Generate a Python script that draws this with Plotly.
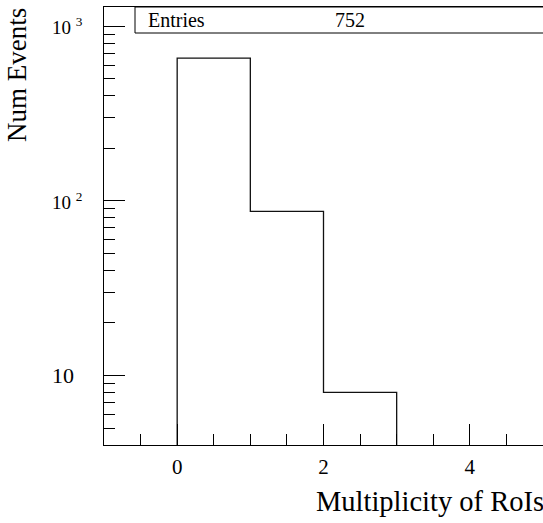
import math
import plotly.graph_objects as go

# Histogram content: bin edges and counts per bin
bin_edges = [0, 1, 2, 3]
counts = [657, 87, 8]

# Axis setup
x_range = [-1, 5]
y_range = [4.0, 1290]
x_tick_vals = [0, 2, 4]
x_tick_text = ["0", "2", "4"]
x_minor_step = 0.5
y_major = [10, 100, 1000]
y_labels = ["10", "10&nbsp;<sup>2</sup>", "10&nbsp;<sup>3</sup>"]
x_title = "Multiplicity of RoIs"
y_title = "Num Events"
stats_label = "Entries"

FONT = "Liberation Serif, Times New Roman, Times, serif"
W, H = 543, 523
ML, MR, MT, MB = 104, 0, 7, 78
PW, PH = W - ML - MR, H - MT - MB


def px_x(px):
    """Horizontal pixel position -> paper coordinate."""
    return (px - ML) / PW


def px_y(py):
    """Vertical pixel position (from top) -> paper coordinate."""
    return (H - MB - py) / PH


# Step outline of the histogram, dropping to below the axis floor at both ends
floor = y_range[0] / 10
xs, ys = [bin_edges[0]], [floor]
for i, c in enumerate(counts):
    xs += [bin_edges[i], bin_edges[i + 1]]
    ys += [c, c]
xs.append(bin_edges[-1])
ys.append(floor)

y_minor = [m * 10 ** e for e in range(0, 4) for m in range(2, 10)
           if y_range[0] <= m * 10 ** e <= y_range[1]]

fig = go.Figure()
fig.add_trace(go.Scatter(x=xs, y=ys, mode="lines",
                         line=dict(color="#111111", width=1.3),
                         hoverinfo="skip", showlegend=False))

axis_common = dict(showline=True, linecolor="black", linewidth=1,
                   showgrid=False, zeroline=False, ticks="inside",
                   tickcolor="black", tickwidth=1, ticklen=21)

fig.update_xaxes(range=x_range, tickmode="array", tickvals=x_tick_vals,
                 ticktext=x_tick_text, mirror=True,
                 tickfont=dict(family=FONT, size=21, color="black"),
                 ticklabelstandoff=3,
                 minor=dict(dtick=x_minor_step, tick0=0, ticks="inside",
                            ticklen=11, tickcolor="black", tickwidth=1),
                 **axis_common)
fig.update_yaxes(type="log", range=[math.log10(y_range[0]), math.log10(y_range[1])],
                 tickmode="array", tickvals=y_major, showticklabels=False,
                 minor=dict(tickmode="array", tickvals=y_minor, ticks="inside",
                            ticklen=11, tickcolor="black", tickwidth=1),
                 **axis_common)

annotations = []
# Y tick labels, left aligned
for v, t in zip(y_major, y_labels):
    size = 22 if "<sup>" not in t else 19
    annotations.append(dict(x=px_x(50), xref="paper", xanchor="left",
                            y=math.log10(v), yref="y", yanchor="middle",
                            text=t, showarrow=False,
                            font=dict(family=FONT, size=size, color="black")))

# Axis titles
annotations.append(dict(x=px_x(546), xref="paper", xanchor="right",
                        y=px_y(484), yref="paper", yanchor="top",
                        text=x_title, showarrow=False,
                        font=dict(family=FONT, size=28.5, color="black")))
annotations.append(dict(x=px_x(17), xref="paper", xanchor="center",
                        y=px_y(6), yref="paper", yanchor="top",
                        text=y_title, textangle=-90, showarrow=False,
                        font=dict(family=FONT, size=27, color="black")))

# Statistics box
entries = sum(counts)
annotations.append(dict(x=px_x(146), xref="paper", xanchor="left",
                        y=px_y(20), yref="paper", yanchor="middle",
                        text=stats_label, showarrow=False,
                        font=dict(family=FONT, size=20, color="black")))
annotations.append(dict(x=px_x(333), xref="paper", xanchor="left",
                        y=px_y(20), yref="paper", yanchor="middle",
                        text=str(entries), showarrow=False,
                        font=dict(family=FONT, size=20, color="black")))

shapes = [dict(type="rect", xref="paper", yref="paper",
               x0=px_x(135), x1=1.05, y0=px_y(33), y1=1,
               line=dict(color="black", width=1), fillcolor="white", layer="above")]

fig.update_layout(width=W, height=H,
                  margin=dict(l=ML, r=MR, t=MT, b=MB, pad=0),
                  paper_bgcolor="white", plot_bgcolor="white",
                  font=dict(family=FONT, color="black"),
                  annotations=annotations, shapes=shapes)

fig.write_html("out.html")
